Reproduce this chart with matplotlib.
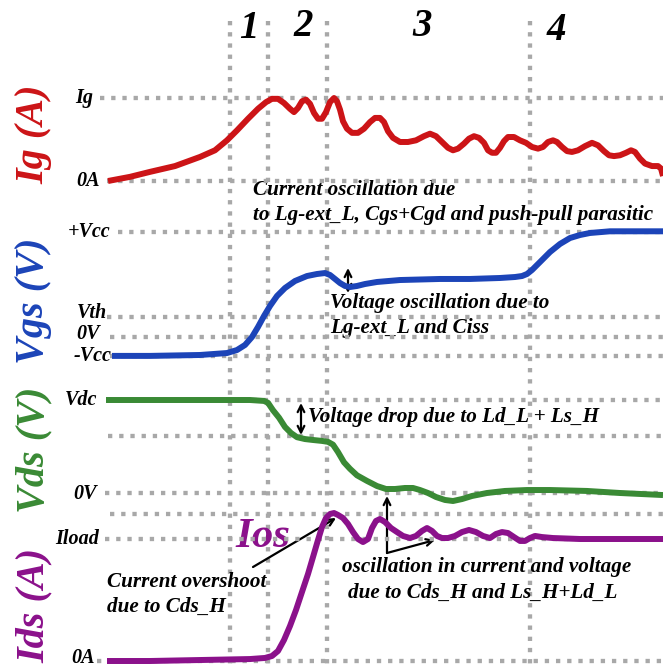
import matplotlib.pyplot as plt

# time axis in ns, values in per-unit / volts (schematic switching waveforms)
ig_t = [0, 4.4, 8.4, 13.4, 18.4, 21.4, 23.8, 25.8, 28, 30, 31.6, 32.8, 34, 35.2, 36.4, 37.2, 38,
        38.8, 39.6, 40.4, 41.2, 42, 42.8, 43.6, 44.4, 45.2, 45.8, 46.4, 47, 47.8, 48.8, 50, 51.2,
        52.4, 53.4, 54.4, 55.2, 56, 57, 58.4, 60, 61.6, 63.2, 64.4, 65.6, 66.8, 68, 69, 70, 71.2,
        72.2, 73.2, 74.2, 75.2, 76, 76.8, 77.6, 78.4, 79.2, 80, 81.2, 82.4, 83.6, 84.8, 86, 87,
        88, 89, 89.8, 90.8, 91.8, 92.8, 94, 95.4, 96.8, 98, 99.2, 100.2, 101.2, 102.4, 103.6,
        104.6, 105.4, 106.4, 107.4, 108.8, 110, 110.6, 111]
ig_val = [0, .05, .11, .18, .29, .37, .49, .61, .75, .87, .95, .99, .99, .94, .87, .83, .88,
          .96, .98, .93, .82, .75, .75, .83, .95, 1.0, .96, .86, .72, .63, .58, .58, .63, .71,
          .76, .76, .71, .60, .52, .47, .47, .49, .54, .57, .54, .47, .40, .37, .39, .45, .51,
          .54, .52, .46, .37, .34, .34, .40, .48, .53, .53, .49, .46, .41, .39, .41, .47, .49,
          .47, .41, .36, .35, .37, .42, .46, .43, .36, .31, .30, .31, .34, .37, .35, .27, .21,
          .18, .18, .15, .06]

vgs_t = [0.8, 8.4, 18.4, 23.8, 25.8, 27.4, 28.8, 30, 31.2, 32.4, 33.8, 35.4, 37.4, 39.8, 41.8,
         43.4, 44.4, 45.4, 46.4, 47.4, 48.4, 49.8, 51.4, 53.8, 58.4, 66.4, 72.4, 78.4, 81.4,
         82.8, 83.8, 84.8, 86.4, 88.4, 90.4, 92.4, 94.4, 96.4, 100.4, 106.4, 111]
vgs_val = [-2.7, -2.7, -2.57, -2.29, -1.86, -1.14, 0, 1.43, 3.0, 4.43, 5.86, 7.0, 8.0, 8.71, 9.0,
           9.14, 8.86, 8.29, 7.71, 7.29, 7.14, 7.29, 7.57, 7.86, 8.14, 8.29, 8.29, 8.43, 8.57,
           8.71, 9.0, 9.57, 10.71, 12.14, 13.29, 14.14, 14.57, 14.86, 15.1, 15.1, 15.1]

vds_t = [-0.4, 8.4, 18.4, 28.4, 31.2, 32, 33, 34.2, 35.4, 36.6, 37.8, 39.4, 41, 42.8, 44, 45, 46,
         47.2, 48.4, 49.8, 51.8, 53.8, 55.6, 57.4, 59.4, 61, 62.4, 64, 65.6, 67.4, 69, 70.8,
         72.8, 75.8, 79.4, 83.8, 88.4, 95.8, 102.4, 111]
vds_val = [1.0, 1.0, 1.0, 1.0, .99, .97, .89, .81, .71, .645, .60, .58, .57, .56, .55, .52, .44,
           .33, .26, .19, .13, .075, .043, .043, .054, .054, .032, 0, -.043, -.075, -.086,
           -.065, -.032, 0, .022, .032, .032, .022, 0, -.022]

ids_t = [-0.2, 8.4, 18.4, 28.4, 31.4, 32.8, 34, 35.2, 36.4, 37.6, 38.8, 40, 41, 42, 42.8, 43.6,
         44.4, 45.2, 46, 47, 48, 49, 50, 51, 52, 52.8, 53.6, 54.4, 55.4, 56.6, 57.8, 59, 60.4,
         61.6, 62.8, 63.8, 64.8, 65.8, 66.8, 68, 69.4, 70.8, 72.2, 73.6, 75, 76.4, 77.6, 78.8,
         80, 81.2, 82.4, 83.4, 84.4, 85.4, 86.8, 89, 94.4, 102.4, 111]
ids_val = [0, 0, .008, .016, .025, .041, .082, .172, .287, .418, .566, .713, .852, .992, 1.098,
           1.172, 1.205, 1.213, 1.197, 1.172, 1.123, 1.057, 1.0, .975, 1.0, 1.09, 1.148, 1.164,
           1.139, 1.09, 1.057, 1.025, 1.008, 1.025, 1.066, 1.09, 1.066, 1.025, 1.008, 1.008,
           1.025, 1.057, 1.074, 1.057, 1.025, 1.008, 1.041, 1.057, 1.049, 1.016, .984, .984,
           1.008, 1.025, 1.016, 1.008, 1.0, 1.0, 1.0]

# reference levels (value, label)
ig_levels = [(1.0, 'Ig'), (0.0, '0A')]
vgs_levels = [(15.0, '+Vcc'), (2.9, 'Vth'), (0.0, '0V'), (-2.7, '-Vcc')]
vds_levels = [(1.0, 'Vdc'), (0.613, None), (0.0, '0V')]
ids_levels = [(1.205, None), (1.0, 'Iload'), (0.0, '0A')]

phase_edges = [24.4, 32, 43.8, 84.4]
phase_names = ['1', '2', '3', '4']

W, H = 663, 666
T0, T1 = -21.6, 111
FONT = dict(family='Liberation Serif', weight='bold', style='italic')
GRID = dict(color='#a8a8a8', lw=3.1, linestyle=(0, (1, 1.6)))

fig = plt.figure(figsize=(W / 100, H / 100), dpi=100)

# base layer: x = time, y = pixel rows from top
base = fig.add_axes([0, 0, 1, 1])
base.set_xlim(T0, T1)
base.set_ylim(H, 0)
base.axis('off')


def panel(v0, row0, v1, row1):
    # transparent axes over the whole figure, scaled so v0 sits on row0 and v1 on row1
    a = fig.add_axes([0, 0, 1, 1], sharex=base)
    k = (row1 - row0) / (v1 - v0)
    a.set_ylim(v0 + (H - row0) / k, v0 - row0 / k)
    a.axis('off')
    a.patch.set_alpha(0)
    return a


ax_ig = panel(0, 181, 1, 98)
ax_vgs = panel(0, 337, 15, 232)
ax_vds = panel(0, 493, 1, 400)
ax_ids = panel(0, 661, 1, 539)

# phase boundaries
for t in phase_edges:
    base.vlines(t, 21, H, **GRID)
for t, name, row in zip([28.2, 39, 62.8, 89.6], phase_names, [28, 27, 27, 30]):
    base.text(t, row, name, fontsize=28, ha='center', va='center', **FONT)

# (axes, t, values, levels, colour, grid start, label x, label lift in pt)
panels = [
    (ax_ig, ig_t, ig_val, ig_levels, '#cc1417', [-1.6, -0.2], [-3, -1.6], [0, 0]),
    (ax_vgs, vgs_t, vgs_val, vgs_levels, '#1c44b8', [2, -0.2, 0.4, 0.4],
     [0.4, -0.2, -1.6, 0.6], [0, 2.5, 2, 0]),
    (ax_vds, vds_t, vds_val, vds_levels, '#3a8a35', [-0.2, 0, -0.6], [-2.2, None, -2.2],
     [0, 0, -1]),
    (ax_ids, ids_t, ids_val, ids_levels, '#8b118b', [0.4, -0.6, -2.2], [None, -1.8, -2.6],
     [0, 0, 2.5]),
]
for a, t, v, levels, col, starts, lab_x, lift in panels:
    for (lev, lab), s, lx, dy in zip(levels, starts, lab_x, lift):
        a.hlines(lev, s, T1, **GRID)
        if lab:
            a.annotate(lab, (lx, lev), xytext=(0, dy), textcoords='offset points',
                       fontsize=14.5, ha='right', va='center', **FONT)
    a.plot(t, v, color=col, lw=4.3, solid_joinstyle='round', solid_capstyle='butt')

# axis titles
for name, col, row in [('Ig (A)', '#cc1417', 134), ('Vgs (V)', '#1c44b8', 301),
                       ('Vds (V)', '#3a8a35', 450), ('Ids (A)', '#8b118b', 605)]:
    base.text(-14.8, row, name, color=col, fontsize=29, rotation=90,
              ha='center', va='center', **FONT)

# annotations
notes = [
    (29, 190, 'Current oscillation due'),
    (29, 215, 'to Lg-ext_L, Cgs+Cgd and push-pull parasitic'),
    (44.4, 303, 'Voltage oscillation due to'),
    (44.4, 328, 'Lg-ext_L and Ciss'),
    (40, 417, 'Voltage drop due to Ld_L + Ls_H'),
    (-0.2, 582, 'Current overshoot'),
    (-0.2, 607, 'due to Cds_H'),
    (46.8, 567, 'oscillation in current and voltage'),
    (48, 593, 'due to Cds_H and Ls_H+Ld_L'),
]
for x, row, s in notes:
    base.text(x, row, s, fontsize=15.2, ha='left', va='center', **FONT)
base.text(25.4, 537, 'Ios', color='#8b118b', fontsize=31, ha='left', va='center', **FONT)

arrow = dict(color='black', lw=1.6, shrinkA=0, shrinkB=0, mutation_scale=12)
base.annotate('', xy=(48, 293), xytext=(48, 268), arrowprops=dict(arrowstyle='<->', **arrow))
base.annotate('', xy=(38.6, 435), xytext=(38.6, 403), arrowprops=dict(arrowstyle='<->', **arrow))
base.annotate('', xy=(45.6, 518), xytext=(29, 567), arrowprops=dict(arrowstyle='->', **arrow))
base.annotate('', xy=(55.8, 496), xytext=(55.8, 553), arrowprops=dict(arrowstyle='->', **arrow))
base.annotate('', xy=(65.4, 540), xytext=(55.8, 553), arrowprops=dict(arrowstyle='->', **arrow))

fig.savefig('out.png', dpi=100)
